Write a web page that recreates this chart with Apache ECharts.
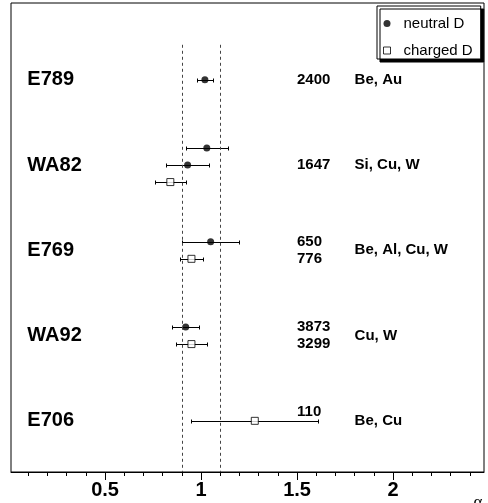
<!DOCTYPE html>
<html>
<head>
<meta charset="utf-8">
<script src="https://cdn.jsdelivr.net/npm/echarts@6/dist/echarts.min.js"></script>
<style>
  html, body { margin: 0; padding: 0; background: #fff; }
  #chart { width: 488px; height: 503px; }
</style>
</head>
<body>
<div id="chart"></div>
<script>
// Nuclear dependence exponent alpha for open-charm production, per experiment
const experiments = ['E789', 'WA82', 'E769', 'WA92', 'E706'];
const targets = ['Be, Au', 'Si, Cu, W', 'Be, Al, Cu, W', 'Cu, W', 'Be, Cu'];

// neutral D measurements
const neutralExp = [0, 1, 1, 2, 3];
const neutralAlpha = [1.02, 1.03, 0.93, 1.05, 0.92];
const neutralErr = [0.04, 0.11, 0.11, 0.15, 0.07];

// charged D measurements
const chargedExp = [1, 2, 3, 4];
const chargedAlpha = [0.84, 0.95, 0.95, 1.28];
const chargedErr = [0.08, 0.06, 0.08, 0.33];

// number of reconstructed events
const eventCounts = ['2400', '1647', '650', '776', '3873', '3299', '110'];
const countExp = [0, 1, 2, 2, 3, 3, 4];

// reference band for alpha
const refLines = [0.9, 1.1];

// x axis ticks
const majorTicks = [0.5, 1, 1.5, 2];
const tickLabels = ['0.5', '1', '1.5', '2'];

// ---- layout (row placement within each experiment, text columns) ----
const neutralShift = [0, -0.2, 0, -0.1, -0.1];
const chargedShift = [0.2, 0.1, 0.1, 0];
const countShift = [0, 0, -0.1, 0.1, -0.1, 0.1, -0.11];
const nameCol = 0.095, countCol = 1.5, targetCol = 1.8;
const refTop = 0.59;

const minorTicks = [];
for (let i = 1; i <= 24; i++) minorTicks.push(+(i * 0.1).toFixed(1));

const FONT = '"Liberation Sans", Arial, Helvetica, sans-serif';
const row = i => i + 1;

const neutralData = neutralAlpha.map((a, i) => [a, row(neutralExp[i]) + neutralShift[i], neutralErr[i]]);
const chargedData = chargedAlpha.map((a, i) => [a, row(chargedExp[i]) + chargedShift[i], chargedErr[i]]);

const texts = [];
experiments.forEach((n, i) => texts.push([nameCol, row(i), n, 20]));
eventCounts.forEach((c, i) => texts.push([countCol, row(countExp[i]) + countShift[i], c, 15]));
targets.forEach((t, i) => texts.push([targetCol, row(i), t, 15]));

function errorBars(params, api) {
  const x = api.value(0), y = api.value(1), e = api.value(2);
  const p0 = api.coord([x - e, y]);
  const p1 = api.coord([x + e, y]);
  const yy = Math.round(p0[1]) + 0.5;
  const x0 = Math.round(p0[0]) + 0.5, x1 = Math.round(p1[0]) + 0.5;
  const st = { stroke: '#000', lineWidth: 1 };
  return {
    type: 'group',
    children: [
      { type: 'line', shape: { x1: x0, y1: yy, x2: x1, y2: yy }, style: st },
      { type: 'line', shape: { x1: x0, y1: yy - 2, x2: x0, y2: yy + 2 }, style: st },
      { type: 'line', shape: { x1: x1, y1: yy - 2, x2: x1, y2: yy + 2 }, style: st }
    ]
  };
}

function textItem(params, api) {
  const p = api.coord([api.value(0), api.value(1)]);
  return {
    type: 'text',
    x: p[0], y: p[1],
    style: {
      text: String(texts[params.dataIndex][2]),
      font: 'bold ' + api.value(3) + 'px ' + FONT,
      fill: '#000',
      textAlign: 'left',
      textVerticalAlign: 'middle'
    }
  };
}

const chart = echarts.init(document.getElementById('chart'), null, { renderer: 'canvas' });
chart.setOption({
  animation: false,
  backgroundColor: '#fff',
  grid: {
    left: 11, top: 3, width: 473, height: 469,
    show: true, borderColor: '#000', borderWidth: 1,
    containLabel: false, outerBoundsMode: 'none'
  },
  xAxis: [
    {
      type: 'value', min: 0.01, max: 2.474, position: 'bottom',
      axisLine: { show: true, lineStyle: { color: '#000', width: 1 } },
      axisTick: { show: true, customValues: majorTicks, length: 8, inside: false, lineStyle: { color: '#000' } },
      axisLabel: {
        show: true, customValues: majorTicks, margin: 8,
        fontSize: 20, fontWeight: 'bold', color: '#000', fontFamily: FONT,
        formatter: v => {
          let k = 0;
          majorTicks.forEach((t, i) => { if (Math.abs(t - v) < Math.abs(majorTicks[k] - v)) k = i; });
          return tickLabels[k];
        }
      },
      splitLine: { show: false }
    },
    {
      type: 'value', min: 0.01, max: 2.474, position: 'bottom',
      axisLine: { show: false },
      axisTick: { show: true, customValues: minorTicks, length: 4, inside: false, lineStyle: { color: '#000' } },
      axisLabel: { show: false },
      splitLine: { show: false }
    }
  ],
  yAxis: {
    type: 'value', min: 0.1, max: 5.6, inverse: true, show: false,
    splitLine: { show: false }
  },
  legend: {
    orient: 'vertical', left: 377, top: 6,
    padding: [10, 8, 1, 6], itemGap: 12,
    itemWidth: 7, itemHeight: 7,
    backgroundColor: '#fff', borderColor: '#000', borderWidth: 1,
    shadowColor: '#000', shadowOffsetX: 3, shadowOffsetY: 3, shadowBlur: 0,
    selectedMode: false,
    itemStyle: { borderWidth: 1 },
    textStyle: { fontSize: 15, color: '#000', fontFamily: FONT, padding: [0, 0, 0, 8] },
    data: [{ name: 'neutral D', icon: 'circle' }, { name: 'charged D', icon: 'rect' }]
  },
  graphic: [
    {
      type: 'text', x: 478, y: 503,
      style: { text: 'α', font: '17px "Liberation Serif", "DejaVu Serif", serif', fill: '#000', textAlign: 'center', textVerticalAlign: 'middle' }
    }
  ],
  series: [
    {
      type: 'custom', name: 'neutral bars', renderItem: errorBars, data: neutralData, z: 3, silent: true,
      markLine: {
        silent: true, symbol: ['none', 'none'], label: { show: false },
        lineStyle: { color: '#444', type: [3, 3], width: 1 },
        data: refLines.map(v => [{ coord: [v, refTop] }, { coord: [v, 5.6] }])
      }
    },
    { type: 'custom', name: 'charged bars', renderItem: errorBars, data: chargedData, z: 3, silent: true },
    {
      type: 'scatter', name: 'neutral D', data: neutralData, symbol: 'circle', symbolSize: 7, z: 4,
      itemStyle: { color: '#000' }
    },
    {
      type: 'scatter', name: 'charged D', data: chargedData, symbol: 'rect', symbolSize: 7, z: 4,
      itemStyle: { color: '#fff', borderColor: '#000', borderWidth: 1 }
    },
    { type: 'custom', name: 'text', renderItem: textItem, data: texts, z: 5, silent: true }
  ]
});
</script>
</body>
</html>
